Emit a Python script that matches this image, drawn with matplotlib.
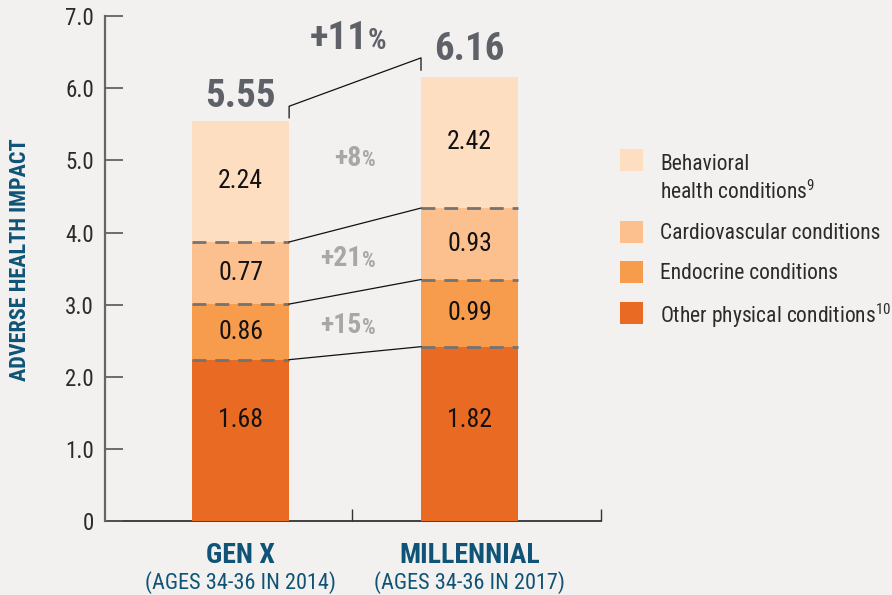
import matplotlib
matplotlib.use("Agg")
import matplotlib.pyplot as plt
from matplotlib import font_manager as fm
from matplotlib.patches import Rectangle

avail = {f.name for f in fm.fontManager.ttflist}
FONT = None
for cand in ["Liberation Sans Narrow", "Roboto Condensed", "Open Sans Condensed", "Noto Sans", "DejaVu Sans"]:
    if cand in avail:
        FONT = cand
        break
plt.rcParams['font.family'] = [FONT, 'DejaVu Sans']
plt.rcParams['mathtext.fontset'] = 'custom'
plt.rcParams['mathtext.rm'] = FONT

# ---------------- data ----------------
generations = ["GEN X", "MILLENNIAL"]
subtitles = ["(AGES 34-36 IN 2014)", "(AGES 34-36 IN 2017)"]
series_names = ["Other physical conditions", "Endocrine conditions",
                "Cardiovascular conditions", "Behavioral\nhealth conditions"]
# segment heights as drawn, bottom to top
other_h = [2.24, 2.42]
endocrine_h = [0.77, 0.93]
cardio_h = [0.86, 0.99]
behavioral_h = [1.68, 1.82]
# numbers printed on the segments, bottom to top
other_lbl = ["1.68", "1.82"]
endocrine_lbl = ["0.86", "0.99"]
cardio_lbl = ["0.77", "0.93"]
behavioral_lbl = ["2.24", "2.42"]
totals = ["5.55", "6.16"]
change_labels = ["+15", "+21", "+8"]   # between boundaries bottom->top
total_change = "+11"

colors = ["#E96A22", "#F79C4D", "#FBC08E", "#FDDEC0"]
BG = "#F2F1EF"
BLUE = "#0F5477"
GREY_TXT = "#5E6268"
PCT = "#A9A6A3"

fig = plt.figure(figsize=(8.92, 5.95), dpi=100, facecolor=BG)
ax = fig.add_axes([105/892, 1-521.4/595, 496/892, (521.4-16)/595])
ax.set_facecolor(BG)

x = [0, 1]
W = 0.424
heights = [other_h, endocrine_h, cardio_h, behavioral_h]
labels = [other_lbl, endocrine_lbl, cardio_lbl, behavioral_lbl]
bottoms = [0.0, 0.0]
bounds = [[], []]
for s, (h, lb) in enumerate(zip(heights, labels)):
    ax.bar(x, h, width=W, bottom=bottoms, color=colors[s], linewidth=0, zorder=2)
    for i in range(2):
        if s == 0:
            ly = 1.40
        else:
            ly = bottoms[i] + h[i] / 2
        ax.text(x[i], ly, lb[i], ha='center', va='center', fontsize=18.5,
                color='#111111', zorder=5)
    bottoms = [bottoms[i] + h[i] for i in range(2)]
    if s < 3:
        for i in range(2):
            bounds[i].append(bottoms[i])

# dashed boundaries and connector lines
for k in range(3):
    for i in range(2):
        ax.plot([x[i] - W/2, x[i] + W/2], [bounds[i][k]] * 2, color='#737373',
                lw=2, dashes=(5, 3.2), zorder=4, solid_capstyle='butt')
    ax.plot([x[0] + W/2, x[1] - W/2], [bounds[0][k], bounds[1][k]],
            color='#111111', lw=0.9, zorder=4)

# change labels between bars
chg_y = [2.71, 3.64, 5.03]
xm = 0.49
for k, t in enumerate(change_labels):
    ax.text(xm + 0.04, chg_y[k], t, ha='right', va='center', fontsize=20,
            color=PCT, fontweight='bold')
    ax.text(xm + 0.04, chg_y[k] - 0.03, "%", ha='left', va='center', fontsize=15.5,
            color=PCT, fontweight='bold')

# totals
tot_y = [5.88, 6.53]
for i in range(2):
    ax.text(x[i], tot_y[i], totals[i], ha='center', va='center', fontsize=28,
            fontweight='bold', color=GREY_TXT)
# bracket
ax.plot([x[0] + W/2, x[0] + W/2, x[1] - W/2, x[1] - W/2],
        [5.59, 5.75, 6.42, 6.25], color='#111111', lw=0.9, zorder=4)
ax.text(0.555, 6.69, total_change, ha='right', va='center', fontsize=28,
        fontweight='bold', color=GREY_TXT)
ax.text(0.555, 6.66, "%", ha='left', va='center', fontsize=21,
        fontweight='bold', color=GREY_TXT)

# axes styling
ax.set_ylim(0, 7)
ax.set_xlim(-0.592, 1.574)
ax.set_yticks([0, 1, 2, 3, 4, 5, 6, 7])
ax.set_yticklabels(["0", "1.0", "2.0", "3.0", "4.0", "5.0", "6.0", "7.0"])
ax.tick_params(axis='y', direction='in', length=13, width=1.2, color='#555555',
               labelsize=16.5, labelcolor='#2b2b2b', pad=8)
ax.set_xticks([0.487, 1.574])
ax.set_xticklabels([])
ax.tick_params(axis='x', direction='in', length=9, width=1.0, color='#333333')
for sp in ['top', 'right']:
    ax.spines[sp].set_visible(False)
ax.spines['left'].set_color('#666666')
ax.spines['left'].set_linewidth(1.6)
ax.spines['bottom'].set_color('#222222')
ax.spines['bottom'].set_linewidth(1.2)
ax.spines['bottom'].set_zorder(1)

# category labels
for i in range(2):
    ax.text(x[i], -0.47, generations[i], ha='center', va='center', fontsize=20,
            fontweight='bold', color=BLUE, clip_on=False)
    ax.text(x[i], -0.85, subtitles[i], ha='center', va='center', fontsize=16,
            color=BLUE, clip_on=False)

fig.text(20/892, 1-260/595, "ADVERSE HEALTH IMPACT", rotation=90, ha='center',
         va='center', fontsize=16, fontweight='bold', color=BLUE)

# legend (manual)
leg_rows = [("Behavioral", 160, 162), ("Cardiovascular conditions", 232, 232),
            ("Endocrine conditions", 272, 272), ("Other physical conditions$^{10}$", 313, 314)]
leg_cols = [colors[3], colors[2], colors[1], colors[0]]
for (txt, py, ty), c in zip(leg_rows, leg_cols):
    fig.patches.append(Rectangle((620/892, 1-(py+11)/595), 23/892, 22/595,
                                 transform=fig.transFigure, color=c, lw=0))
    fig.text(660/892, 1-(ty+2)/595, txt, ha='left', va='center', fontsize=15.5,
             color='#2b2b2b')
fig.text(660/892, 1-192/595, "health conditions$^{9}$", ha='left', va='center',
         fontsize=15.5, color='#2b2b2b')

fig.savefig("out.png", dpi=100, facecolor=BG)
